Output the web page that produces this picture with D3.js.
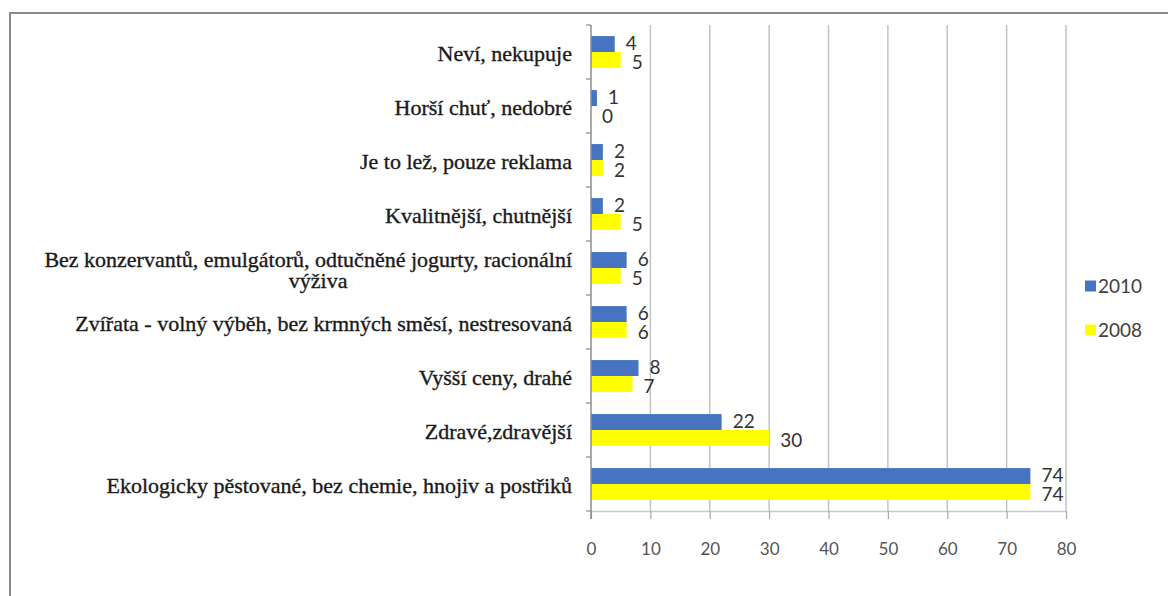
<!DOCTYPE html>
<html>
<head>
<meta charset="utf-8">
<script src="https://cdn.jsdelivr.net/npm/d3@7"></script>
<style>
  html, body { margin: 0; padding: 0; background: #fff; }
  svg { display: block; }
  .cat { font-family: "Liberation Serif", "DejaVu Serif", "Noto Serif", serif; font-size: 22px; fill: #1a1a1a; stroke: #1a1a1a; stroke-width: 0.35px; }
  .num { font-family: Lato, "Open Sans", sans-serif; }
</style>
</head>
<body>
<svg id="chart" width="1168" height="596"></svg>
<script>
// categories from top to bottom
const categories = [
    "Neví, nekupuje",
    "Horší chuť, nedobré",
    "Je to lež, pouze reklama",
    "Kvalitnější, chutnější",
    "Bez konzervantů, emulgátorů, odtučněné jogurty, racionální|výživa",
    "Zvířata - volný výběh, bez krmných směsí, nestresovaná",
    "Vyšší ceny, drahé",
    "Zdravé,zdravější",
    "Ekologicky pěstované, bez chemie, hnojiv a postřiků"
];
const values2010 = [4, 1, 2, 2, 6, 6, 8, 22, 74];
const values2008 = [5, 0, 2, 5, 5, 6, 7, 30, 74];
const seriesNames = ["2010", "2008"];
const seriesColors = ["#4674c2", "#ffff00"];
const xTicks = [0, 10, 20, 30, 40, 50, 60, 70, 80];

const svg = d3.select("#chart");

// outer frame
svg.append("rect")
    .attr("x", 10)
    .attr("y", 13)
    .attr("width", 1200)
    .attr("height", 650)
    .attr("fill", "none")
    .attr("stroke", "#8a8a8a")
    .attr("stroke-width", 2);

const plot = { left: 591, right: 1066, top: 25, bottom: 511 };

const x = d3.scaleLinear()
    .domain([0, 80])
    .range([plot.left, plot.right]);

const y = d3.scaleBand()
    .domain(categories)
    .range([plot.top, plot.bottom])
    .paddingInner(0.41)
    .paddingOuter(0.205);

const ySub = d3.scaleBand()
    .domain(seriesNames)
    .range([0, y.bandwidth()]);

// gridlines
svg.append("g")
    .selectAll("line")
    .data(xTicks.filter(d => d > 0))
    .enter().append("line")
    .attr("x1", d => x(d))
    .attr("x2", d => x(d))
    .attr("y1", plot.top)
    .attr("y2", plot.bottom)
    .attr("stroke", "#c3c3c3")
    .attr("stroke-width", 1.5);

// x axis
const xAxis = svg.append("g")
    .attr("transform", `translate(0,${plot.bottom})`)
    .call(d3.axisBottom(x).tickValues(xTicks).tickSize(8).tickSizeOuter(0));
xAxis.select(".domain").attr("stroke", "#c4cad6").attr("stroke-width", 1.5);
xAxis.selectAll(".tick line").attr("stroke", "#a8a8a8").attr("stroke-width", 1.2);
xAxis.selectAll(".tick text")
    .attr("class", "num")
    .attr("y", 38)
    .attr("dy", "0.35em")
    .attr("fill", "#555")
    .style("font-family", "Lato, 'Open Sans', sans-serif")
    .style("font-size", "17px");

// bars
const groups = svg.append("g")
    .selectAll("g")
    .data(categories.map((c, i) => ({ cat: c, vals: [values2010[i], values2008[i]] })))
    .enter().append("g")
    .attr("transform", d => `translate(0,${y(d.cat)})`);

groups.selectAll("rect")
    .data(d => d.vals.map((v, j) => ({ series: seriesNames[j], value: v })))
    .enter().append("rect")
    .attr("x", x(0))
    .attr("y", d => ySub(d.series))
    .attr("width", d => x(d.value) - x(0))
    .attr("height", ySub.bandwidth())
    .attr("fill", (d, j) => seriesColors[j]);

groups.selectAll("text")
    .data(d => d.vals.map((v, j) => ({ series: seriesNames[j], value: v })))
    .enter().append("text")
    .attr("class", "num")
    .attr("x", d => x(d.value) + 11)
    .attr("y", d => ySub(d.series) + ySub.bandwidth() / 2 + (d.series === "2010" ? -1 : 2))
    .attr("dy", "0.35em")
    .attr("fill", "#333")
    .style("font-size", "19px")
    .text(d => d.value);

// y axis line and boundary ticks
const axisColor = "#8c8c8c";
svg.append("line")
    .attr("x1", plot.left).attr("x2", plot.left)
    .attr("y1", plot.top).attr("y2", plot.bottom + 8)
    .attr("stroke", axisColor)
    .attr("stroke-width", 1.5);

const half = (y.step() - y.bandwidth()) / 2;
const bounds = categories.map(c => y(c) - half).concat([plot.bottom]);
svg.append("g")
    .selectAll("line")
    .data(bounds)
    .enter().append("line")
    .attr("x1", plot.left - 5).attr("x2", plot.left)
    .attr("y1", d => d).attr("y2", d => d)
    .attr("stroke", axisColor)
    .attr("stroke-width", 1.2);

// category labels
const labels = svg.append("g");

categories.forEach(c => {
    const lines = c.split("|");
    const cy = y(c) + y.bandwidth() / 2;
    if (lines.length === 1) {
        labels.append("text")
            .attr("class", "cat")
            .attr("x", 572)
            .attr("y", cy + 1)
            .attr("dy", "0.35em")
            .attr("text-anchor", "end")
            .text(lines[0]);
    } else {
        const first = labels.append("text")
            .attr("class", "cat")
            .attr("x", 572)
            .attr("y", cy - 9)
            .attr("dy", "0.35em")
            .attr("text-anchor", "end")
            .text(lines[0]);
        const w = first.node().getComputedTextLength();
        labels.append("text")
            .attr("class", "cat")
            .attr("x", 572 - w / 2 + 10)
            .attr("y", cy + 12)
            .attr("dy", "0.35em")
            .attr("text-anchor", "middle")
            .text(lines[1]);
    }
});

// legend
const legend = svg.append("g")
    .selectAll("g")
    .data(seriesNames)
    .enter().append("g")
    .attr("transform", (d, i) => `translate(1085,${286 + i * 44})`);

legend.append("rect")
    .attr("x", 0)
    .attr("y", -5.5)
    .attr("width", 11)
    .attr("height", 11)
    .attr("fill", (d, i) => seriesColors[i]);

legend.append("text")
    .attr("class", "num")
    .attr("x", 13)
    .attr("y", 0)
    .attr("dy", "0.35em")
    .attr("fill", "#404040")
    .style("font-size", "19px")
    .text(d => d);
</script>
</body>
</html>
